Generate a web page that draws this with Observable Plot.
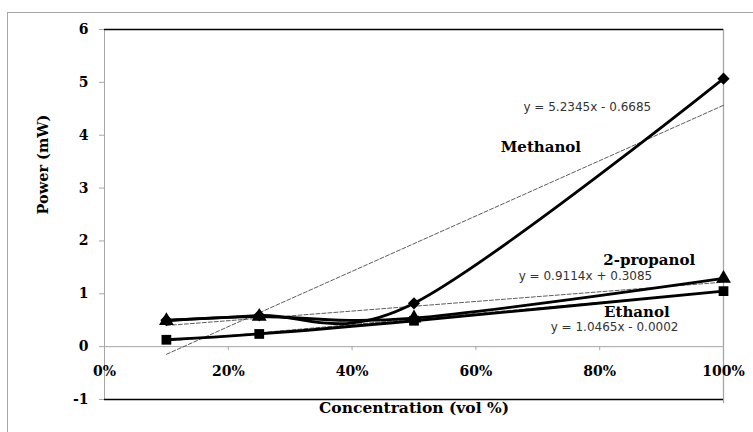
<!DOCTYPE html>
<html><head><meta charset="utf-8">
<script src="https://cdn.jsdelivr.net/npm/d3@7"></script>
<script src="https://cdn.jsdelivr.net/npm/@observablehq/plot@0.6"></script>
<style>
html,body{margin:0;padding:0;background:#fff;}
#wrap{position:relative;width:753px;height:432px;overflow:hidden;background:#fff;}
#frame{position:absolute;left:7px;top:12px;width:800px;height:500px;border:1px solid #a6a6a6;box-sizing:border-box;pointer-events:none;}
</style></head><body>
<div id="wrap"></div>
<script>
// data (concentration as fraction of volume, power in mW)
const concentration = [0.10, 0.25, 0.50, 1.00];
const methanol = [0.50, 0.59, 0.82, 5.07];
const propanol = [0.49, 0.57, 0.54, 1.29];
const ethanol = [0.13, 0.24, 0.49, 1.05];
const seriesNames = ["Methanol", "2-propanol", "Ethanol"];
const trendSlope = [5.2345, 0.9114, 1.0465];
const trendIntercept = [-0.6685, 0.3085, -0.0002];
const trendLabels = ["y = 5.2345x - 0.6685", "y = 0.9114x + 0.3085", "y = 1.0465x - 0.0002"];
const xTicks = [0, 0.2, 0.4, 0.6, 0.8, 1];
const yTicks = [-1, 0, 1, 2, 3, 4, 5, 6];

const seriesValues = [methanol, propanol, ethanol];
const rows = seriesNames.flatMap((s, i) =>
  concentration.map((c, j) => ({series: s, x: c, y: seriesValues[i][j]})));
const [xmin, xmax] = d3.extent(concentration);
const trendRows = seriesNames.flatMap((s, i) =>
  [xmin, xmax].map(c => ({series: s, x: c, y: trendSlope[i] * c + trendIntercept[i]})));

const serif = "'DejaVu Serif', 'Liberation Serif', serif";
const sans = "'DejaVu Sans', Arial, sans-serif";

// annotation anchors in data space (concentration, power)
const seriesLabelPos = [[0.705, 3.78], [0.88, 1.64], [0.86, 0.66]];
const trendLabelPos = [[0.78, 4.54], [0.777, 1.34], [0.824, 0.36]];

const chart = Plot.plot({
  width: 753,
  height: 432,
  marginLeft: 104,
  marginRight: 30,
  marginTop: 29,
  marginBottom: 33,
  style: {fontFamily: serif, fontWeight: "bold", fontSize: "14px", background: "#fff", color: "#000"},
  x: {domain: [0, 1]},
  y: {domain: [-1, 6]},
  symbol: {domain: seriesNames, range: ["diamond2", "triangle", "square"]},
  marks: [
    Plot.ruleY([0], {stroke: "#a6a6a6", strokeWidth: 1}),
    Plot.ruleX([0], {stroke: "#a6a6a6", strokeWidth: 1}),
    Plot.ruleX([1], {stroke: "#a6a6a6", strokeWidth: 1.3, insetBottom: -4}),
    Plot.ruleY([6], {stroke: "#000", strokeWidth: 1.5}),
    Plot.ruleY([-1], {stroke: "#000", strokeWidth: 1.5}),
    Plot.ruleX(xTicks.slice(1, -1), {x: d => d, y1: 0, y2: 0, insetBottom: -4, stroke: "#a6a6a6"}),
    Plot.axisY(yTicks, {anchor: "left", tickSize: 5, tickPadding: 11, stroke: "#a6a6a6", tickFormat: d => String(d), label: null, fontSize: 14}),
    Plot.axisX(xTicks, {anchor: "bottom", tickSize: 0, dy: -42, tickFormat: d3.format(".0%"), label: null, fontSize: 14}),
    Plot.text(["Power (mW)"], {frameAnchor: "left", rotate: -90, dx: -61, fontSize: 14.5}),
    Plot.text(["Concentration (vol %)"], {frameAnchor: "bottom", dy: 13, fontSize: 15.5}),
    Plot.line(trendRows, {x: "x", y: "y", z: "series", stroke: "#333", strokeWidth: 0.8, strokeDasharray: "4,2"}),
    Plot.line(rows, {x: "x", y: "y", z: "series", curve: "cardinal", stroke: "#000", strokeWidth: 2.8}),
    Plot.dot(rows, {x: "x", y: "y", symbol: "series", fill: "#000", r: 5.5}),
    Plot.text(seriesNames, {x: (d, i) => seriesLabelPos[i][0], y: (d, i) => seriesLabelPos[i][1], text: d => d, fontSize: 15}),
    Plot.text(trendLabels, {x: (d, i) => trendLabelPos[i][0], y: (d, i) => trendLabelPos[i][1], text: d => d, fontFamily: sans, fontWeight: "normal", fontSize: 12, fill: "#333"})
  ]
});
const wrap = document.getElementById("wrap");
wrap.appendChild(chart);
const fr = document.createElement("div");
fr.id = "frame";
wrap.appendChild(fr);
</script>
</body></html>
